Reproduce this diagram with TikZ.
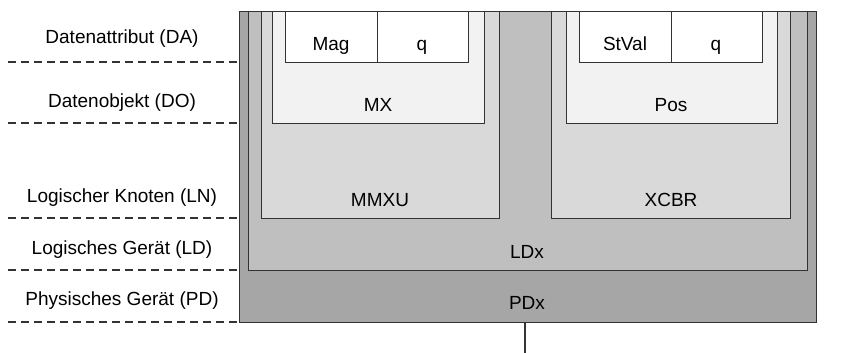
\documentclass[tikz,border=0pt]{standalone}
\usepackage{fontspec}
\setmainfont{Liberation Sans}
\definecolor{pdc}{HTML}{A6A6A6}
\definecolor{ldc}{HTML}{BFBFBF}
\definecolor{lnc}{HTML}{D9D9D9}
\definecolor{doc}{HTML}{F2F2F2}
\definecolor{linec}{HTML}{333333}
\begin{document}
\begin{tikzpicture}[x=1pt,y=-1pt,
  box/.style={draw=linec,line width=1.3pt,inner sep=0pt,anchor=north west},
  txt/.style={inner sep=0pt,anchor=base,font=\fontsize{19}{23}\selectfont},
  guide/.style={draw=linec,line width=1.1pt,dash pattern=on 8pt off 5pt}]
\useasboundingbox (0,0) rectangle (856,353);
% boxes
\node[box,fill=pdc,minimum width=577pt,minimum height=311pt] (pd) at (239,11) {};
\node[box,fill=ldc,minimum width=559pt,minimum height=259pt] (ld) at (248,11) {};
\node[box,fill=lnc,minimum width=238pt,minimum height=207pt] (mmxu) at (261,11) {};
\node[box,fill=lnc,minimum width=239pt,minimum height=207pt] (xcbr) at (551,11) {};
\node[box,fill=doc,minimum width=212pt,minimum height=112pt] (mx) at (272,11) {};
\node[box,fill=doc,minimum width=211pt,minimum height=112pt] (pos) at (566,11) {};
\node[box,fill=white,minimum width=92pt,minimum height=51pt] (mag) at (285,11) {};
\node[box,fill=white,minimum width=91pt,minimum height=51pt] (q1) at (377,11) {};
\node[box,fill=white,minimum width=92pt,minimum height=51pt] (stval) at (579,11) {};
\node[box,fill=white,minimum width=91pt,minimum height=51pt] (q2) at (671,11) {};
% box texts
\node[txt] (tmag) at (331,51) {Mag};
\node[txt] (tq1) at (422,51) {q};
\node[txt] (tstval) at (625,51) {StVal};
\node[txt] (tq2) at (716,51) {q};
\node[txt] (tmx) at (378,111) {MX};
\node[txt] (tpos) at (671,111) {Pos};
\node[txt] (tmmxu) at (380,206) {MMXU};
\node[txt] (txcbr) at (671,206) {XCBR};
\node[txt] (tldx) at (527,258) {LDx};
\node[txt] (tpdx) at (527,309) {PDx};
% bottom connector
\coordinate (pdbot) at (525,322);
\coordinate (linkend) at (525,353);
\draw[draw=linec,line width=1.3pt] (pdbot) -- (linkend);
% left labels
\node[txt] (lda) at (122,44) {Datenattribut (DA)};
\node[txt] (ldo) at (122,107) {Datenobjekt (DO)};
\node[txt] (lln) at (122,202) {Logischer Knoten (LN)};
\node[txt] (lld) at (122,254) {Logisches Gerät (LD)};
\node[txt] (lpd) at (122,305) {Physisches Gerät (PD)};
% dashed guides
\coordinate (g1) at (8,62);
\coordinate (g2) at (8,123);
\coordinate (g3) at (8,218);
\coordinate (g4) at (8,270);
\coordinate (g5) at (8,322);
\draw[guide] (g1) -- (g1 -| pd.west);
\draw[guide] (g2) -- (g2 -| pd.west);
\draw[guide] (g3) -- (g3 -| pd.west);
\draw[guide] (g4) -- (g4 -| pd.west);
\draw[guide] (g5) -- (g5 -| pd.west);
\end{tikzpicture}
\end{document}
